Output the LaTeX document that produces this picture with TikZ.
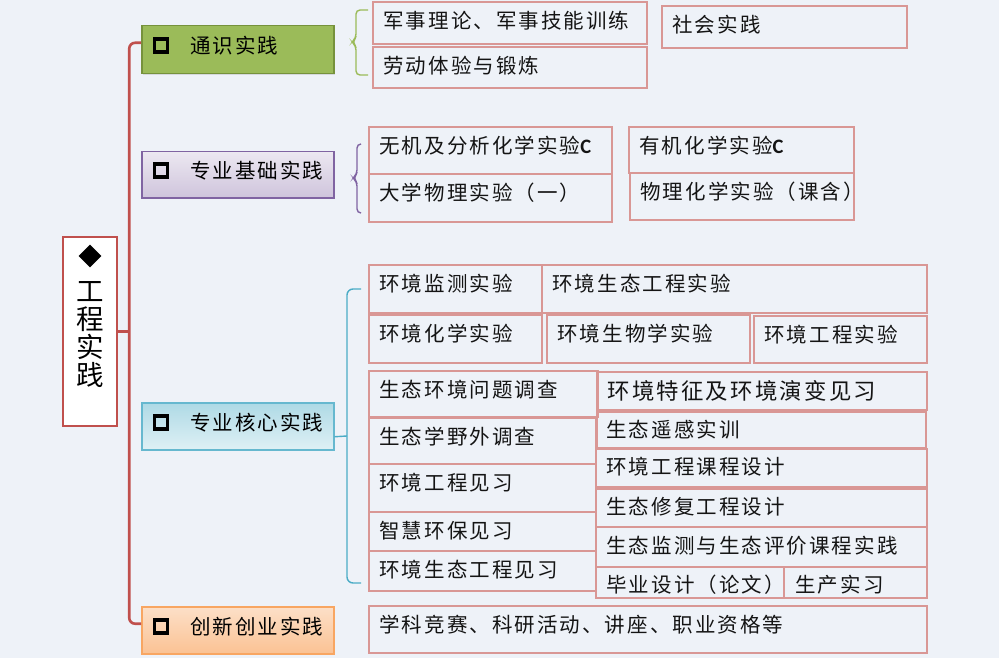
\documentclass[tikz,border=0pt]{standalone}
\usepackage{fontspec}
\newfontfamily\cjk[LetterSpace=10]{Noto Sans CJK SC}
\newfontfamily\latb{Carlito}
\usetikzlibrary{calc,fit,shapes.geometric,shadows}
\definecolor{bg}{HTML}{EEF2F8}
\definecolor{leafc}{HTML}{D99795}
\definecolor{trunkc}{HTML}{C0504D}
\definecolor{gfill}{HTML}{9BBB59}
\definecolor{gdraw}{HTML}{76923C}
\definecolor{pdraw}{HTML}{8064A2}
\definecolor{bdraw}{HTML}{4BACC6}
\definecolor{odraw}{HTML}{F79646}
\tikzset{
  leaf/.style={draw=leafc, line width=1.5pt, inner sep=0pt},
  lt/.style={font=\cjk\fontsize{20.5}{24}\selectfont, inner sep=0pt, text=black!92},
  ltbig/.style={font=\cjk\fontsize{22.4}{26}\selectfont, inner sep=0pt, text=black!92},
  cat/.style={line width=1.5pt, minimum width=192pt, anchor=north west, inner sep=0pt,
    drop shadow={opacity=0.22, shadow xshift=1.5pt, shadow yshift=-1.5pt}},
  cattext/.style={font=\cjk\fontsize{20.5}{24}\selectfont, inner sep=0pt, anchor=west, text=black},
  sqbullet/.style={draw=black, line width=3.8pt, minimum size=13pt, inner sep=0pt},
  trunk/.style={draw=trunkc, line width=2.6pt},
  brace/.style={line width=1.4pt, rounded corners=4pt}
}
\newcommand\leafbox[5]{%
  \coordinate (#1-a) at (#2,#3);
  \coordinate (#1-b) at (#4,#5);
  \node[leaf, fit=(#1-a)(#1-b)] (#1) {};
}
\newcommand\leaftext[2]{%
  \node[lt, anchor=west] (#1-t) at ($(#1.north west)+(11,19.5)$) {#2};
}
\begin{document}
\begin{tikzpicture}[x=1pt,y=-1pt]
\useasboundingbox (0,0) rectangle (999,658);
\fill[bg] (0,0) rectangle (999,658);

% root
\coordinate (r-a) at (63,237);
\coordinate (r-b) at (117,426);
\node[draw=trunkc, line width=2.4pt, fill=white, inner sep=0pt, fit=(r-a)(r-b)] (root) {};
\node[diamond, fill=black, inner sep=0pt, minimum width=23pt, minimum height=23pt] (rootdia) at (90,256) {};
\node[font=\cjk\fontsize{27.5}{28}\selectfont, align=center, inner sep=0pt] (roottext) at (90,334.5) {工\\程\\实\\践};

% categories
\node[cat, fill=gfill, draw=gdraw, minimum height=48pt] (cat1) at (141,25) {};
\node[cat, top color=pdraw!15, bottom color=pdraw!38, draw=pdraw, minimum height=46pt] (cat2) at (141,151) {};
\node[cat, top color=bdraw!45, bottom color=bdraw!18, draw=bdraw!85, minimum height=47pt] (cat3) at (141,402) {};
\node[cat, top color=odraw!30, bottom color=odraw!58, draw=odraw!85, minimum height=47pt] (cat4) at (141,606) {};

\node[sqbullet] (sq1) at ($(cat1.west)+(20,-4)$) {};
\node[sqbullet] (sq2) at ($(cat2.west)+(20,-4)$) {};
\node[sqbullet] (sq3) at ($(cat3.west)+(20,-4)$) {};
\node[sqbullet] (sq4) at ($(cat4.west)+(20,-4)$) {};
\node[cattext] (ct1) at ($(cat1.west)+(49,-4)$) {通识实践};
\node[cattext] (ct2) at ($(cat2.west)+(49,-4)$) {专业基础实践};
\node[cattext] (ct3) at ($(cat3.west)+(49,-4)$) {专业核心实践};
\node[cattext] (ct4) at ($(cat4.west)+(49,-4)$) {创新创业实践};

% trunk
\coordinate (tj) at ($(root.east)+(11,0)$);
\draw[trunk, rounded corners=6pt] ($(cat1.west)+(0,-7)$) -| (tj) |- ($(cat4.west)+(0,-6.5)$);
\draw[trunk] (root.east) -- (tj);

% leaves
\leafbox{jsl}{373}{2}{647}{44}
\leafbox{ldt}{373}{47}{647}{88}
\leafbox{shsj}{662}{6}{907}{48}
\leafbox{wj}{369}{127}{612}{174}
\leafbox{dxwl}{369}{174}{612}{222}
\leafbox{yj}{629}{127}{854}{173}
\leafbox{wlhx}{630}{173}{854}{220}
\leafbox{hjjc}{369}{265}{542}{313}
\leafbox{hjstsy}{542}{265}{927}{313}
\leafbox{hjhx}{369}{315}{542}{363}
\leafbox{hjsw}{547}{315}{750}{363}
\leafbox{hjgcsy}{754}{316}{927}{363}
\leafbox{sthjwt}{369}{371}{598}{417}
\leafbox{hjtz}{597}{372}{927}{410}
\leafbox{styw}{369}{418}{596}{464}
\leafbox{styg}{597}{412}{926}{448}
\leafbox{hjgcjx}{369}{464}{596}{512}
\leafbox{hjgckc}{596}{449}{927}{487}
\leafbox{zhhb}{369}{512}{596}{551}
\leafbox{stxf}{596}{489}{927}{527}
\leafbox{hjstjx}{369}{551}{596}{591}
\leafbox{stjc}{596}{527}{927}{567}
\leafbox{bysj}{596}{567}{784}{598}
\leafbox{scsx}{784}{567}{927}{598}
\leafbox{xkjs}{369}{606}{927}{653}

\leaftext{jsl}{军事理论、军事技能训练}
\leaftext{ldt}{劳动体验与锻炼}
\leaftext{shsj}{社会实践}
\leaftext{wj}{无机及分析化学实验{\latb\bfseries C}}
\leaftext{dxwl}{大学物理实验（一）}
\leaftext{yj}{有机化学实验{\latb\bfseries C}}
\leaftext{wlhx}{物理化学实验（课含）}
\leaftext{hjjc}{环境监测实验}
\leaftext{hjstsy}{环境生态工程实验}
\leaftext{hjhx}{环境化学实验}
\leaftext{hjsw}{环境生物学实验}
\leaftext{hjgcsy}{环境工程实验}
\leaftext{sthjwt}{生态环境问题调查}
\node[ltbig, anchor=west] (hjtz-t) at ($(hjtz.north west)+(11,20)$) {环境特征及环境演变见习};
\leaftext{styw}{生态学野外调查}
\node[lt, anchor=west] (styg-t) at ($(styg.north west)+(10,18)$) {生态遥感实训};
\leaftext{hjgcjx}{环境工程见习}
\node[lt, anchor=west] (hjgckc-t) at ($(hjgckc.north west)+(11,18)$) {环境工程课程设计};
\leaftext{zhhb}{智慧环保见习}
\node[lt, anchor=west] (stxf-t) at ($(stxf.north west)+(11,18)$) {生态修复工程设计};
\leaftext{hjstjx}{环境生态工程见习}
\leaftext{stjc}{生态监测与生态评价课程实践}
\node[lt, anchor=west] (bysj-t) at ($(bysj.north west)+(11,18)$) {毕业设计（论文）};
\node[lt, anchor=west] (scsx-t) at ($(scsx.north west)+(12,18)$) {生产实习};
\leaftext{xkjs}{学科竞赛、科研活动、讲座、职业资格等}

% braces
\coordinate (gb-top) at (368,10);
\coordinate (gb-bot) at (368,75);
\draw[brace, draw=gfill] (gb-top) -| (356,38) -- (352,42) -- (356,46) |- (gb-bot);
\coordinate (pb-top) at (361,144);
\coordinate (pb-bot) at (361,213);
\draw[brace, draw=pdraw] (pb-top) -| (357,174) -- (353,178) -- (357,182) |- (pb-bot);
\coordinate (bb) at (347,436);
\coordinate (bb-top) at (361,289);
\coordinate (bb-bot) at (361,583);
\draw[brace, draw=bdraw] ($(cat3.east)+(0,10.5)$) -- (bb);
\draw[brace, draw=bdraw, rounded corners=6pt] (bb-top) -| (bb) |- (bb-bot);
\end{tikzpicture}
\end{document}
